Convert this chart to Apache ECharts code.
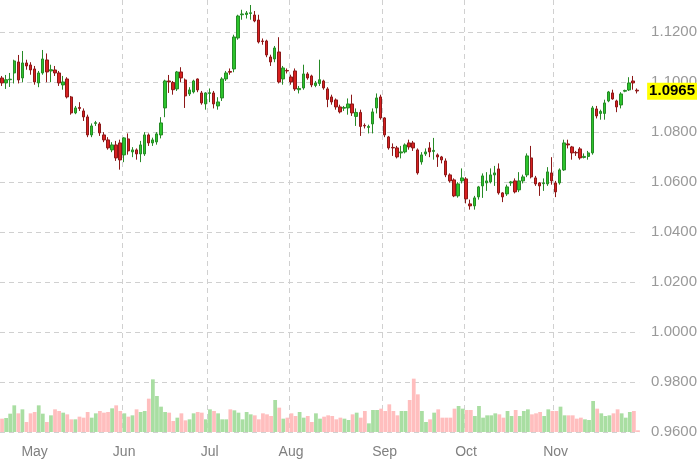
<!DOCTYPE html>
<html>
<head>
<meta charset="utf-8">
<script src="https://cdn.jsdelivr.net/npm/echarts@6/dist/echarts.min.js"></script>
<style>html,body{margin:0;padding:0;background:#fff}#c{width:700px;height:460px}</style>
</head>
<body>
<div id="c"></div>
<script>
var dates = [
'2023-04-19','2023-04-20','2023-04-21','2023-04-24','2023-04-25','2023-04-26','2023-04-27','2023-04-28',
'2023-05-01','2023-05-02','2023-05-03','2023-05-04','2023-05-05','2023-05-08','2023-05-09','2023-05-10','2023-05-11','2023-05-12','2023-05-15','2023-05-16','2023-05-17','2023-05-18','2023-05-19','2023-05-22','2023-05-23','2023-05-24','2023-05-25','2023-05-26','2023-05-30','2023-05-31',
'2023-06-01','2023-06-02','2023-06-05','2023-06-06','2023-06-07','2023-06-08','2023-06-09','2023-06-12','2023-06-13','2023-06-14','2023-06-15','2023-06-16','2023-06-20','2023-06-21','2023-06-22','2023-06-23','2023-06-26','2023-06-27','2023-06-28','2023-06-29','2023-06-30',
'2023-07-03','2023-07-05','2023-07-06','2023-07-07','2023-07-10','2023-07-11','2023-07-12','2023-07-13','2023-07-14','2023-07-17','2023-07-18','2023-07-19','2023-07-20','2023-07-21','2023-07-24','2023-07-25','2023-07-26','2023-07-27','2023-07-28','2023-07-31',
'2023-08-01','2023-08-02','2023-08-03','2023-08-04','2023-08-07','2023-08-08','2023-08-09','2023-08-10','2023-08-11','2023-08-14','2023-08-15','2023-08-16','2023-08-17','2023-08-18','2023-08-21','2023-08-22','2023-08-23','2023-08-24','2023-08-25','2023-08-28','2023-08-29','2023-08-30','2023-08-31',
'2023-09-01','2023-09-05','2023-09-06','2023-09-07','2023-09-08','2023-09-11','2023-09-12','2023-09-13','2023-09-14','2023-09-15','2023-09-18','2023-09-19','2023-09-20','2023-09-21','2023-09-22','2023-09-25','2023-09-26','2023-09-27','2023-09-28','2023-09-29',
'2023-10-02','2023-10-03','2023-10-04','2023-10-05','2023-10-06','2023-10-09','2023-10-10','2023-10-11','2023-10-12','2023-10-13','2023-10-16','2023-10-17','2023-10-18','2023-10-19','2023-10-20','2023-10-23','2023-10-24','2023-10-25','2023-10-26','2023-10-27','2023-10-30','2023-10-31',
'2023-11-01','2023-11-02','2023-11-03','2023-11-06','2023-11-07','2023-11-08','2023-11-09','2023-11-10','2023-11-13','2023-11-14','2023-11-15','2023-11-16','2023-11-17','2023-11-20','2023-11-21','2023-11-22','2023-11-24','2023-11-27','2023-11-28','2023-11-29','2023-11-30'
];
var monthNames = ['Jan','Feb','Mar','Apr','May','Jun','Jul','Aug','Sep','Oct','Nov','Dec'];

var opens = [
1.1017,1.0997,1.1010,1.1037,1.1081,1.1017,1.1077,1.1069,1.1053,1.0997,
1.1037,1.1089,1.1045,1.1049,1.1037,1.0989,1.1013,1.0941,1.0877,1.0899,
1.0885,1.0861,1.0789,1.0835,1.0833,1.0789,1.0769,1.0729,1.0749,1.0757,
1.0709,1.0773,1.0721,1.0729,1.0713,1.0713,1.0789,1.0757,1.0761,1.0789,
1.0897,1.1005,1.0999,1.0973,1.1041,1.1009,1.0953,1.0961,1.1013,1.0957,
1.0913,1.0955,1.0957,1.0905,1.0937,1.1013,1.1043,1.1053,1.1177,1.1270,
1.1271,1.1275,1.1269,1.1249,1.1165,1.1165,1.1101,1.1093,1.1121,1.1013,
1.1047,1.1021,1.1045,1.0970,1.0977,1.1033,1.1025,1.0987,1.0995,1.1005,
1.0973,1.0941,1.0929,1.0901,1.0896,1.0897,1.0913,1.0863,1.0879,1.0827,
1.0819,1.0833,1.0897,1.0941,1.0857,1.0781,1.0739,1.0737,1.0717,1.0721,
1.0757,1.0757,1.0729,1.0681,1.0713,1.0737,1.0723,1.0709,1.0701,1.0685,
1.0629,1.0609,1.0545,1.0605,1.0613,1.0513,1.0505,1.0541,1.0585,1.0597,
1.0601,1.0629,1.0653,1.0557,1.0553,1.0597,1.0605,1.0569,1.0605,1.0629,
1.0697,1.0617,1.0597,1.0594,1.0593,1.0637,1.0597,1.0597,1.0649,1.0753,
1.0741,1.0719,1.0733,1.0699,1.0703,1.0717,1.0893,1.0875,1.0875,1.0925,
1.0957,1.0925,1.0909,1.0964,1.0969,1.1005,1.0968
];
var closes = [
1.0997,1.1010,1.1012,1.1085,1.1009,1.1077,1.1065,1.1049,1.1001,1.1037,
1.1093,1.1041,1.1050,1.1037,1.0997,1.1001,1.0941,1.0877,1.0897,1.0895,
1.0861,1.0789,1.0825,1.0838,1.0797,1.0769,1.0737,1.0749,1.0697,1.0689,
1.0777,1.0725,1.0729,1.0713,1.0749,1.0789,1.0757,1.0769,1.0793,1.0837,
1.1005,1.1001,1.0970,1.1041,1.1017,1.0945,1.0969,1.1005,1.0969,1.0917,
1.0957,1.0958,1.0913,1.0921,1.1013,1.1037,1.1040,1.1181,1.1265,1.1273,
1.1277,1.1278,1.1245,1.1161,1.1163,1.1109,1.1081,1.1137,1.1001,1.1057,
1.1045,1.1001,1.0973,1.0975,1.1033,1.1017,1.0989,1.0997,1.1010,1.0977,
1.0931,1.0921,1.0901,1.0881,1.0899,1.0913,1.0877,1.0879,1.0823,1.0825,
1.0823,1.0881,1.0937,1.0857,1.0789,1.0737,1.0737,1.0701,1.0721,1.0749,
1.0741,1.0737,1.0637,1.0709,1.0721,1.0721,1.0727,1.0701,1.0689,1.0629,
1.0605,1.0545,1.0593,1.0617,1.0533,1.0505,1.0537,1.0581,1.0625,1.0605,
1.0629,1.0637,1.0557,1.0541,1.0581,1.0601,1.0561,1.0605,1.0621,1.0705,
1.0621,1.0593,1.0585,1.0597,1.0641,1.0605,1.0561,1.0649,1.0757,1.0749,
1.0717,1.0717,1.0697,1.0703,1.0717,1.0897,1.0865,1.0883,1.0917,1.0961,
1.0933,1.0901,1.0953,1.0967,1.0997,1.0997,1.0965
];
var lows = [
1.0985,1.0973,1.0981,1.0995,1.0995,1.1000,1.1050,1.1030,1.0990,1.0980,
1.1030,1.1000,1.1000,1.1025,1.0985,1.0970,1.0935,1.0870,1.0872,1.0885,
1.0845,1.0780,1.0780,1.0825,1.0785,1.0760,1.0730,1.0720,1.0685,1.0650,
1.0680,1.0710,1.0700,1.0690,1.0680,1.0705,1.0745,1.0745,1.0750,1.0775,
1.0860,1.0957,1.0950,1.0965,1.1000,1.0897,1.0945,1.0955,1.0960,1.0910,
1.0890,1.0920,1.0895,1.0890,1.0925,1.1005,1.1030,1.1040,1.1170,1.1250,
1.1255,1.1250,1.1240,1.1155,1.1150,1.1100,1.1065,1.1080,1.0995,1.0990,
1.1035,1.0990,1.0965,1.0955,1.0970,1.1010,1.0980,1.0980,1.0985,1.0970,
1.0900,1.0910,1.0890,1.0875,1.0885,1.0870,1.0865,1.0825,1.0785,1.0815,
1.0795,1.0795,1.0875,1.0850,1.0780,1.0730,1.0705,1.0695,1.0695,1.0715,
1.0730,1.0725,1.0630,1.0670,1.0705,1.0700,1.0690,1.0661,1.0675,1.0620,
1.0598,1.0540,1.0538,1.0595,1.0515,1.0490,1.0490,1.0530,1.0537,1.0565,
1.0595,1.0585,1.0550,1.0520,1.0545,1.0585,1.0555,1.0560,1.0595,1.0620,
1.0615,1.0585,1.0545,1.0565,1.0585,1.0590,1.0540,1.0590,1.0645,1.0735,
1.0690,1.0705,1.0690,1.0695,1.0690,1.0710,1.0855,1.0850,1.0850,1.0920,
1.0930,1.0880,1.0895,1.0960,1.0965,1.0970,1.0955
];
var highs = [
1.1025,1.1029,1.1037,1.1090,1.1109,1.1125,1.1090,1.1080,1.1065,1.1045,
1.1129,1.1115,1.1070,1.1065,1.1045,1.1025,1.1020,1.0945,1.0905,1.0920,
1.0895,1.0870,1.0835,1.0845,1.0840,1.0800,1.0780,1.0760,1.0765,1.0770,
1.0780,1.0795,1.0740,1.0735,1.0765,1.0800,1.0795,1.0778,1.0800,1.0860,
1.1010,1.1029,1.1005,1.1045,1.1060,1.1015,1.0980,1.1010,1.1015,1.0965,
1.0960,1.0975,1.0965,1.0940,1.1020,1.1045,1.1055,1.1190,1.1270,1.1290,
1.1285,1.1309,1.1285,1.1270,1.1175,1.1170,1.1110,1.1145,1.1180,1.1065,
1.1055,1.1030,1.1055,1.0985,1.1070,1.1040,1.1030,1.1005,1.1090,1.1010,
1.0980,1.0950,1.0935,1.0910,1.0905,1.0935,1.0950,1.0895,1.0890,1.0835,
1.0830,1.0895,1.0955,1.0950,1.0860,1.0785,1.0755,1.0745,1.0745,1.0755,
1.0770,1.0765,1.0735,1.0720,1.0735,1.0760,1.0777,1.0715,1.0705,1.0695,
1.0635,1.0615,1.0600,1.0655,1.0620,1.0530,1.0545,1.0585,1.0635,1.0640,
1.0655,1.0665,1.0675,1.0560,1.0590,1.0605,1.0615,1.0640,1.0630,1.0715,
1.0745,1.0625,1.0600,1.0615,1.0660,1.0700,1.0605,1.0655,1.0770,1.0770,
1.0745,1.0725,1.0740,1.0715,1.0725,1.0905,1.0905,1.0890,1.0930,1.0965,
1.0970,1.0930,1.0960,1.0970,1.1020,1.1025,1.0975
];
var volumes = [
40,42,55,80,56,68,30,56,60,80,55,30,50,68,63,58,53,38,38,46,
43,60,43,56,63,58,60,71,80,63,56,46,50,68,60,63,100,158,108,76,
60,58,33,43,56,35,38,56,60,58,38,68,63,56,38,38,68,65,58,38,
60,53,50,38,56,53,48,96,73,40,43,56,48,60,43,48,30,56,40,46,
50,48,38,43,40,36,
53,58,43,63,26,66,66,70,63,83,63,50,63,63,96,160,113,63,30,38,
58,68,43,43,43,70,78,70,66,66,48,78,43,50,50,56,53,43,63,48,
66,48,63,68,53,56,60,48,68,63,63,76,50,50,50,40,43,38,36,93,
70,56,48,50,56,68,56,43,60,63,5
];

var candleData = opens.map(function (o, i) { return [o, closes[i], lows[i], highs[i]]; });
var lastClose = closes[closes.length - 1];
var volData = volumes.map(function (v, i) {
  var up = closes[i] >= opens[i];
  return { value: v, itemStyle: { color: up ? '#a9dea2' : '#ffbebe' } };
});
function monthOf(d) { return parseInt(d.substr(5, 2), 10) - 1; }
function isMonthStart(idx) {
  return idx > 0 && idx < dates.length && monthOf(dates[idx]) !== monthOf(dates[idx - 1]);
}

var chart = echarts.init(document.getElementById('c'));
var FONT = '"Liberation Sans", Arial, sans-serif';
chart.setOption({
  animation: false,
  backgroundColor: '#ffffff',
  grid: [
    { left: 0, right: 60, top: 0, bottom: 28 },
    { left: 0, right: 60, bottom: 28, height: 60 }
  ],
  xAxis: [
    {
      type: 'category', gridIndex: 0, data: dates, boundaryGap: true,
      axisLine: { show: false }, axisTick: { show: false },
      axisLabel: {
        interval: function (idx) { return isMonthStart(idx); },
        formatter: function (v) { return monthNames[monthOf(v)]; },
        color: '#808080', fontSize: 14, fontFamily: FONT, margin: 13
      },
      splitLine: {
        show: true, showMinLine: false, showMaxLine: false,
        interval: function (idx) { return isMonthStart(idx); },
        lineStyle: { color: '#d0d0d0', type: [5, 4], width: 1 }
      }
    },
    {
      type: 'category', gridIndex: 1, data: dates, boundaryGap: true,
      axisLine: { show: false }, axisTick: { show: false },
      axisLabel: { show: false }, splitLine: { show: false }
    }
  ],
  yAxis: [
    {
      type: 'value', gridIndex: 0, position: 'right',
      min: 0.96, max: 1.1329, interval: 0.02,
      axisLine: { show: false }, axisTick: { show: false },
      axisLabel: {
        showMaxLabel: false,
        formatter: function (v) { return v.toFixed(4); },
        color: '#999999', fontSize: 15, fontFamily: FONT, margin: 12
      },
      splitLine: {
        show: true, showMaxLine: false,
        lineStyle: { color: '#d0d0d0', type: [5, 4], width: 1 }
      }
    },
    {
      type: 'value', gridIndex: 1, min: 0, max: 180,
      axisLine: { show: false }, axisTick: { show: false },
      axisLabel: { show: false }, splitLine: { show: false }
    }
  ],
  series: [
    {
      type: 'bar', xAxisIndex: 1, yAxisIndex: 1, data: volData,
      barCategoryGap: '8%', silent: true
    },
    {
      type: 'candlestick', xAxisIndex: 0, yAxisIndex: 0, data: candleData,
      barWidth: '72%', clip: false,
      itemStyle: {
        color: '#2cc42c', color0: '#d82020',
        borderColor: '#268a26', borderColor0: '#8c1818', borderWidth: 1
      },
      markLine: {
        silent: true, symbol: ['none', 'none'], animation: false,
        lineStyle: { color: 'rgba(0,0,0,0)', width: 1, type: 'solid' },
        label: {
          show: true, position: 'end', distance: 8, offset: [0, 9],
          align: 'left', verticalAlign: 'middle',
          formatter: function () { return lastClose.toFixed(4); },
          backgroundColor: '#ffff00', color: '#000000',
          fontWeight: 'bold', fontSize: 15, fontFamily: FONT,
          padding: [1, 2, 1, 2]
        },
        data: [{ yAxis: lastClose }]
      }
    }
  ]
});
</script>
</body>
</html>
